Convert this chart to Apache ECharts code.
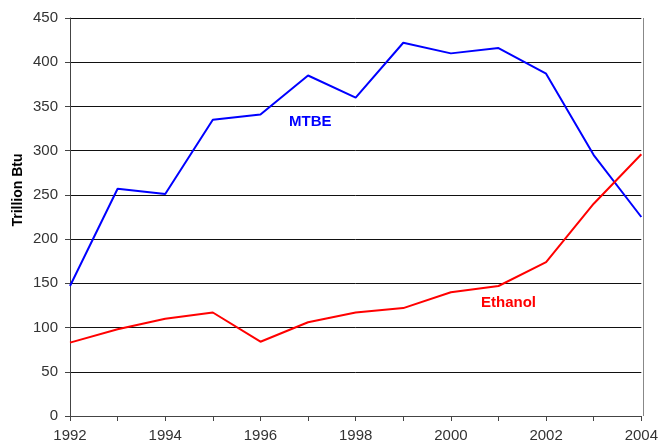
<!DOCTYPE html>
<html><head><meta charset="utf-8">
<script src="https://cdn.jsdelivr.net/npm/echarts@6/dist/echarts.min.js"></script>
<style>html,body{margin:0;padding:0;background:#fff}#c{width:661px;height:445px}</style>
</head><body><div id="c"></div>
<script>
const years = ['1992','1993','1994','1995','1996','1997','1998','1999','2000','2001','2002','2003','2004'];
const mtbe = [147, 257, 251, 335, 341, 385, 360, 422, 410, 416, 387, 295, 225];
const ethanol = [83, 98, 110, 117, 84, 106, 117, 122, 140, 147, 174, 240, 296];
const yTicks = [0, 50, 100, 150, 200, 250, 300, 350, 400, 450];

const chart = echarts.init(document.getElementById('c'));
chart.setOption({
  animation: false,
  grid: {left: 70, right: 18, top: 18, bottom: 29},
  xAxis: {
    type: 'category', data: years, boundaryGap: false,
    axisLine: {lineStyle: {color: '#444', width: 1}},
    axisTick: {show: true, interval: 0, length: 5, lineStyle: {color: '#444'}},
    axisLabel: {interval: 1, color: '#333', fontFamily: 'Liberation Sans, Arial', fontSize: 15, margin: 12,
      showMaxLabel: true},
    splitLine: {show: false}
  },
  yAxis: {
    type: 'value', min: yTicks[0], max: yTicks[yTicks.length-1], interval: 50,
    axisLine: {show: true, lineStyle: {color: '#444', width: 1}},
    axisTick: {show: true, length: 5, lineStyle: {color: '#444'}},
    axisLabel: {color: '#333', fontFamily: 'Liberation Sans, Arial', fontSize: 15, margin: 12},
    splitLine: {show: true, lineStyle: {color: '#111', width: 1}}
  },
  series: [
    {type: 'line', data: mtbe, symbol: 'none', lineStyle: {color: '#0000ff', width: 2}},
    {type: 'line', data: ethanol, symbol: 'none', lineStyle: {color: '#ff0000', width: 2}}
  ],
  graphic: [
    {type: 'line', shape: {x1: 643.5, y1: 18, x2: 643.5, y2: 416}, style: {stroke: '#888', lineWidth: 1}},
    {type: 'text', x: 18, y: 190, rotation: Math.PI / 2,
      style: {text: 'Trillion Btu', fill: '#000', font: 'bold 14px Liberation Sans, Arial', align: 'center', verticalAlign: 'middle'}},
    {type: 'text', x: 289, y: 122, style: {text: 'MTBE', fill: '#0000ff', font: 'bold 15px Liberation Sans, Arial', align: 'left', verticalAlign: 'middle'}},
    {type: 'text', x: 481, y: 303, style: {text: 'Ethanol', fill: '#ff0000', font: 'bold 15px Liberation Sans, Arial', align: 'left', verticalAlign: 'middle'}}
  ]
});
</script></body></html>
